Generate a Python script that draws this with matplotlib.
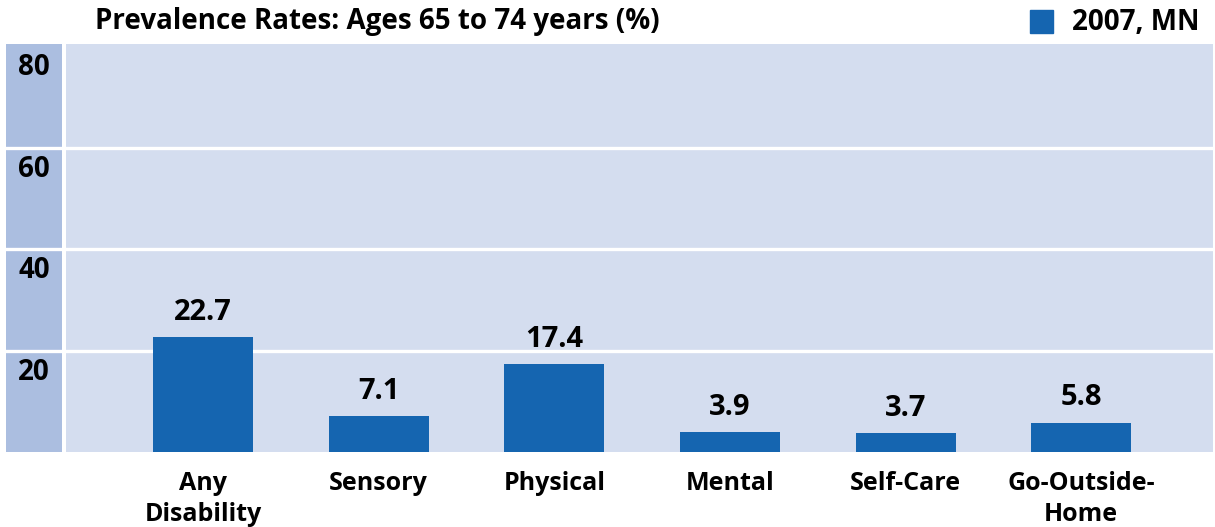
import matplotlib
matplotlib.use('Agg')
import matplotlib.pyplot as plt
from matplotlib.patches import Rectangle

categories = ['Any\nDisability', 'Sensory', 'Physical', 'Mental', 'Self-Care', 'Go-Outside-\nHome']
values = [22.7, 7.1, 17.4, 3.9, 3.7, 5.8]
band_ticks = [20, 40, 60, 80]
series_name = '2007, MN'
title = 'Prevalence Rates: Ages 65 to 74 years (%)'

bar_color = '#1565b0'
plot_bg = '#d4ddef'
side_bg = '#abbee0'

plt.rcParams['font.family'] = ['Open Sans', 'DejaVu Sans']
plt.rcParams['font.weight'] = 'bold'

W, H = 1215, 527
fig = plt.figure(figsize=(W / 100, H / 100), dpi=100)

def px_axes(x0, y0, x1, y1):
    # pixel box (top-left origin) -> figure fraction
    return fig.add_axes([x0 / W, 1 - y1 / H, (x1 - x0) / W, (y1 - y0) / H])

ymax = 80.4

# left column with the band labels
side = px_axes(6, 44, 62, 452)
side.set_xlim(0, 1)
side.set_ylim(0, ymax)
side.add_patch(Rectangle((0, 0), 1, ymax, color=side_bg, zorder=0))
for t in band_ticks[:-1]:
    side.axhline(t, color='white', lw=2.4, zorder=1)
for t in band_ticks:
    side.text(0.5, t - 1.4, str(t), ha='center', va='top', fontsize=20, fontweight='bold', zorder=2)
side.axis('off')

# main plot
ax = px_axes(66, 44, 1213, 452)
ax.set_facecolor(plot_bg)
x = list(range(len(categories)))
for t in band_ticks[:-1]:
    ax.axhline(t, color='white', lw=2.4, zorder=1)
ax.bar(x, values, width=0.57, color=bar_color, zorder=2)
for xi, v in zip(x, values):
    ax.text(xi, v + 2.0, f'{v}', ha='center', va='bottom', fontsize=21, fontweight='bold')
ax.set_xlim(-0.78, 5.75)
ax.set_ylim(0, ymax)
ax.set_yticks([])
ax.set_xticks(x)
ax.set_xticklabels(categories, fontsize=18, fontweight='bold', linespacing=1.3)
ax.tick_params(axis='x', length=0, pad=14)
for s in ax.spines.values():
    s.set_visible(False)

# title and legend
fig.text(95 / W, 1 - 22 / H, title, ha='left', va='center', fontsize=20, fontweight='bold')
fig.patches.append(Rectangle((1030 / W, 1 - 33 / H), 23 / W, 23 / H, color=bar_color,
                             transform=fig.transFigure, figure=fig))
fig.text(1199 / W, 1 - 22 / H, series_name, ha='right', va='center', fontsize=20, fontweight='bold')

fig.savefig('out.png', dpi=100)
